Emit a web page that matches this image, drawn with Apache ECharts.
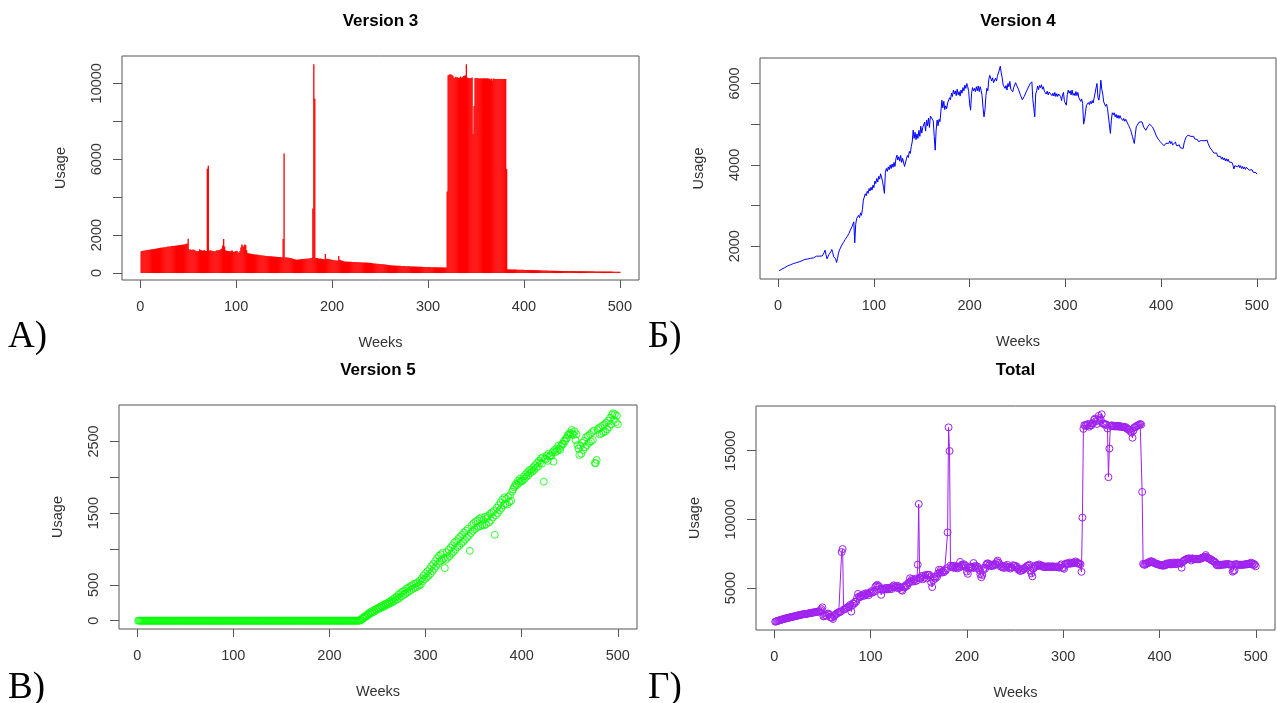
<!DOCTYPE html>
<html><head><meta charset="utf-8">
<script src="https://cdn.jsdelivr.net/npm/echarts@6/dist/echarts.min.js"></script>
<style>html,body{margin:0;padding:0;background:#fff}#c{width:1277px;height:703px}</style>
</head><body><div id="c"></div>
<script>
// ---------- DATA ----------
const xTicks = [0,100,200,300,400,500];
const v3YTicks = [0,2000,4000,6000,8000,10000];
const v3YLabels = [0,2000,6000,10000];
const v4YTicks = [2000,3000,4000,5000,6000];
const v4YLabels = [2000,4000,6000];
const v5YTicks = [0,500,1000,1500,2000,2500];
const v5YLabels = [0,500,1500,2500];
const totYTicks = [5000,10000,15000];
const totYLabels = [5000,10000,15000];

const version3 = [
1151,1160,1170,1180,1190,1200,1210,1215,1225,1235,
1240,1250,1255,1262,1270,1280,1290,1300,1310,1320,
1330,1335,1345,1350,1363,1360,1380,1390,1395,1400,
1405,1410,1420,1425,1430,1440,1445,1450,1460,1465,
1470,1480,1485,1490,1505,1510,1520,1540,1560,1804,
1250,1240,1230,1220,1240,1225,1215,1150,1160,1150,
1150,1250,1210,1200,1180,1190,1210,1170,1160,5500,
5650,1190,1200,1180,1170,1160,1150,1140,1180,1200,
1190,1210,1220,1250,1300,1450,1800,1400,1200,1180,
1170,1160,1150,1140,1180,1190,1120,1110,1150,1180,
1160,1100,1090,1160,1350,1500,1450,1400,1500,1480,
1200,1050,1040,1030,1020,1010,1000,990,985,980,
975,970,960,955,945,940,930,925,920,910,
905,900,895,890,885,880,878,875,870,865,
860,858,855,850,845,840,838,835,1800,6300,
830,825,820,810,805,800,790,780,760,740,
720,715,700,710,715,720,725,730,735,740,
745,750,755,760,765,770,775,780,790,3400,
11000,9200,800,790,780,770,760,765,750,740,
730,720,1000,760,750,740,730,720,710,700,
690,680,670,665,660,650,900,700,680,660,
640,620,610,600,605,600,598,595,590,590,
588,585,582,580,578,575,572,570,568,565,
562,560,558,555,552,550,548,545,542,540,
530,520,510,505,500,495,490,485,480,478,
475,470,465,460,455,450,440,430,420,415,
410,405,400,398,395,392,390,388,385,382,
380,378,375,372,370,368,365,362,360,358,
355,352,350,348,345,342,340,338,336,335,
333,332,330,328,326,325,323,322,320,318,
316,315,313,312,310,308,306,305,303,302,
300,300,298,298,296,296,295,294,293,4300,
10420,10450,10470,10460,10440,10400,10300,10280,10350,10300,
10320,10280,10300,10350,10300,10320,10380,10400,10420,11000,
10300,10280,10260,10250,10280,10300,7340,8800,10260,10280,
10270,10260,10260,10250,10260,10250,10260,10250,10270,10260,
10250,10260,10250,10240,10200,10250,10150,10250,10240,10230,
10230,10220,10230,10230,10220,10230,10220,10230,10220,10220,
10220,5485,200,195,190,190,188,186,185,184,
183,182,180,180,178,176,175,174,172,170,
168,166,165,163,162,160,158,156,155,154,
152,150,150,148,146,145,144,142,140,138,
136,135,134,132,130,128,126,124,123,122,
120,120,118,118,116,116,115,114,113,112,
112,111,110,110,109,108,108,107,106,105,
105,104,103,102,102,101,100,100,99,98,
98,97,96,96,95,94,94,93,92,92,
91,90,90,89,88,88,87,86,86,85,
84,84,83,82,82,81,80,80,79,78,
78,77,76,76,75,74,74,73,72,72];

const version4 = [
1396,1410,1418,1440,1447,1465,1475,1492,1498,1517,
1525,1538,1545,1563,1562,1575,1582,1594,1596,1607,
1608,1618,1622,1645,1644,1660,1656,1676,1675,1688,
1686,1700,1684,1705,1708,1725,1714,1740,1738,1756,
1742,1760,1756,1768,1776,1760,1795,1845,1904,1790,
1690,1725,1795,1770,1862,1920,1845,1740,1700,1690,
1600,1700,1830,1904,1945,2005,2035,2085,2115,2165,
2192,2235,2255,2315,2375,2425,2477,2515,2600,2084,
2540,2683,2640,2760,2700,2820,2760,2905,3133,3120,
3290,3240,3350,3300,3420,3360,3450,3380,3500,3440,
3600,3540,3666,3580,3720,3650,3780,3747,3600,3450,
3300,3820,3912,3840,3950,3880,4000,3910,4020,3940,
4060,3960,4150,4238,4120,4200,4090,4230,4060,4160,
4116,3960,3912,4150,4230,4180,4330,4280,4450,4560,
4853,4650,4800,4620,4760,4649,4850,4700,4950,4780,
4920,4880,5050,4830,5100,4960,5150,4920,5200,5221,
5240,5080,4700,4361,4850,5100,4960,5120,5060,5320,
5590,5400,5560,5360,5450,5380,5520,5480,5650,5600,
5760,5680,5835,5740,5820,5700,5860,5720,5800,5690,
5840,5760,5900,5820,5960,5880,6000,5920,5800,5500,
5344,5760,5900,5820,5880,5800,5920,5820,5940,5800,
5920,5830,5700,5400,5180,5350,5700,5880,5820,6100,
6200,6204,6060,6140,6020,6041,6130,6060,6180,6150,
6330,6425,6260,6140,5960,6000,5880,5950,5840,6000,
5920,6050,5860,5900,5794,5900,5860,6020,5960,5990,
5860,5890,5720,5740,5600,5590,5680,5660,5790,5760,
5890,5860,5990,5950,6041,5600,5400,5180,5740,5820,
5940,5850,5950,5900,5970,5860,5920,5810,5840,5740,
5810,5720,5790,5754,5800,5700,5760,5690,5780,5680,
5750,5680,5740,5713,5680,5580,5720,5780,5560,5520,
5467,5730,5835,5760,5820,5720,5840,5710,5760,5700,
5800,5700,5780,5654,5690,5560,5620,5510,5000,5100,
5300,5467,5440,5530,5480,5560,5500,5580,5520,5640,
5660,5890,6000,5660,5590,5760,6082,5860,5740,5548,
5560,5440,5490,5380,5420,5344,4772,5100,5280,5230,
5280,5180,5240,5150,5220,5140,5210,5150,5180,5090,
5140,5070,5120,5098,5080,4970,4980,4870,4853,4700,
4600,4526,4740,4934,4980,4970,5050,5010,5080,5057,
5040,4920,4940,4850,4853,4940,4920,5000,4960,5000,
4930,4920,4830,4800,4710,4730,4630,4650,4570,4600,
4520,4550,4470,4484,4530,4490,4570,4530,4590,4520,
4570,4490,4530,4480,4560,4470,4510,4440,4490,4420,
4460,4400,4403,4540,4570,4680,4650,4730,4690,4760,
4700,4720,4670,4700,4640,4660,4600,4620,4570,4590,
4550,4600,4570,4620,4590,4630,4580,4607,4530,4520,
4420,4430,4361,4370,4290,4330,4250,4290,4210,4250,
4197,4210,4140,4190,4120,4170,4100,4150,4090,4140,
4070,4110,4030,4060,3993,3900,3980,3970,4020,3950,
4000,3930,3980,3910,3960,3900,3950,3890,3940,3912,
3920,3870,3900,3850,3880,3820,3840,3790,3810,3771];

const version5 = [
0,0,0,0,0,0,0,0,0,0, 0,0,0,0,0,0,0,0,0,0,
0,0,0,0,0,0,0,0,0,0, 0,0,0,0,0,0,0,0,0,0,
0,0,0,0,0,0,0,0,0,0, 0,0,0,0,0,0,0,0,0,0,
0,0,0,0,0,0,0,0,0,0, 0,0,0,0,0,0,0,0,0,0,
0,0,0,0,0,0,0,0,0,0, 0,0,0,0,0,0,0,0,0,0,
0,0,0,0,0,0,0,0,0,0, 0,0,0,0,0,0,0,0,0,0,
0,0,0,0,0,0,0,0,0,0, 0,0,0,0,0,0,0,0,0,0,
0,0,0,0,0,0,0,0,0,0, 0,0,0,0,0,0,0,0,0,0,
0,0,0,0,0,0,0,0,0,0, 0,0,0,0,0,0,0,0,0,0,
0,0,0,0,0,0,0,0,0,0, 0,0,0,0,0,0,0,0,0,0,
0,0,0,0,0,0,0,0,0,0, 0,0,0,0,0,0,0,0,0,0,
0,0,0,0,0,0,0,0,0,0,
0,12,5,35,28,55,48,70,62,95,
88,115,100,130,118,145,128,160,150,172,
165,190,175,205,188,220,200,235,215,245,
228,262,240,280,255,300,270,318,290,335,
300,365,320,385,340,405,360,420,375,445,
395,460,410,480,430,495,445,515,460,520,
470,535,490,560,505,590,550,630,580,660,
600,690,625,720,655,760,690,790,725,830,
760,870,795,905,825,925,845,950,870,734,
850,955,880,990,900,1020,935,1050,960,1090,
990,1110,1025,1140,1045,1170,1075,1200,1100,1230,
1130,1255,1160,1285,1185,975,1220,1330,1250,1360,
1275,1380,1295,1400,1310,1420,1320,1440,1335,1405,
1330,1450,1345,1430,1460,1370,1490,1400,1510,1440,
1530,1198,1470,1575,1500,1610,1540,1650,1570,1690,
1610,1720,1630,1700,1620,1730,1655,1750,1670,1800,
1830,1860,1880,1910,1890,1950,1920,1980,1940,1960,
1950,2010,1980,2040,2010,2070,2030,2100,2060,2110,
2080,2140,2100,2170,2130,2200,2150,2230,2200,2266,
2190,2280,1940,2260,2250,2300,2230,2330,2290,2310,
2300,2350,2219,2380,2350,2400,2370,2440,2400,2382,
2440,2470,2460,2510,2500,2540,2550,2590,2600,2620,
2600,2660,2610,2590,2640,2520,2600,2450,2400,2312,
2440,2330,2480,2380,2510,2420,2560,2450,2580,2480,
2600,2500,2630,2520,2650,2200,2196,2242,2660,2684,
2600,2700,2610,2720,2630,2740,2640,2760,2670,2790,
2700,2830,2740,2870,2893,2800,2880,2770,2860,2740];

const total = [
2547,2565,2590,2618,2640,2662,2688,2705,2725,2750,
2768,2786,2803,2822,2836,2852,2875,2890,2908,2924,
2940,2947,2970,2990,3011,3015,3040,3062,3073,3083,
3095,3106,3106,3125,3142,3160,3163,3185,3202,3215,
3215,3236,3245,3254,3285,3268,3310,3380,3464,3594,
2940,2960,3030,2990,3100,3145,3065,2890,2860,2840,
2750,2950,3040,3100,3130,3190,3250,3250,3280,7620,
7840,3420,3460,3490,3550,3580,3630,3660,3780,3280,
3730,3890,3860,4010,3990,4280,4570,4380,4330,4420,
4480,4420,4560,4450,4620,4560,4580,4480,4650,4640,
4780,4660,4780,4740,5090,5150,5230,5150,5100,4930,
4500,4880,4950,4880,4990,4900,5010,4910,5000,4920,
5040,4930,5120,5193,5070,5140,5020,5160,4990,5080,
5021,4860,4807,5040,5120,5060,5230,5160,5330,5420,
5713,5510,5650,5470,5610,5489,5690,5540,6700,11120,
5750,5700,5870,5640,5900,5760,5940,5700,5960,5961,
5960,5790,5400,5071,5565,5820,5690,5850,5800,6060,
6335,6150,6310,6120,6210,6150,6300,6260,6440,9050,
16700,14980,6635,6530,6600,6470,6620,6490,6550,6430,
6570,6480,6900,6580,6710,6620,6730,6640,6510,6200,
6034,6440,6570,6485,6540,6450,6820,6520,6620,6460,
6560,6450,6310,6000,5785,5950,6298,6475,6410,6690,
6790,6789,6640,6720,6600,6616,6700,6630,6750,6715,
6890,6993,6840,6720,6560,6600,6490,6570,6460,6620,
6545,6690,6480,6530,6419,6520,6490,6660,6610,6620,
6510,6560,6360,6400,6250,6260,6320,6300,6420,6420,
6530,6520,6630,6640,6698,6261,6065,5851,6420,6500,
6630,6580,6670,6620,6720,6620,6660,6580,6590,6520,
6570,6520,6570,6542,6590,6520,6560,6520,6590,6520,
6560,6530,6560,6540,6520,6480,6640,6720,6480,6480,
6400,6710,6790,6770,6800,6760,6860,6780,6810,6800,
6880,6850,6940,6830,6830,6760,6780,6730,6180,10130,
16590,16860,16800,16900,16830,16950,16750,16860,16840,16980,
16990,17250,17330,17150,16950,17190,17542,17390,17280,17653,
17000,16950,16950,16880,16900,16619,13073,15160,16800,16840,
16840,16790,16810,16760,16800,16770,16810,16750,16800,16740,
16740,16740,16730,16700,16720,16610,16590,16540,16533,16380,
16330,15944,16470,16700,16720,16780,16820,16870,16890,16950,
16900,12000,6760,6700,6690,6770,6780,6860,6830,6890,
6960,6920,6910,6850,6810,6790,6750,6730,6710,6700,
6660,6660,6640,6620,6690,6650,6780,6730,6800,6730,
6830,6720,6810,6730,6860,6740,6840,6740,6860,6820,
6800,6790,6480,6900,6970,7020,7070,7100,7120,7150,
7150,7130,7010,7160,7140,7100,7120,7090,7110,7090,
7120,7110,7170,7180,7230,7220,7270,7400,7270,7190,
7150,7120,7110,7030,7000,6950,6930,6850,6700,6650,
6710,6650,6700,6690,6700,6700,6720,6710,6730,6730,
6740,6720,6720,6690,6700,6188,6260,6290,6750,6720,
6710,6690,6690,6690,6690,6700,6690,6710,6710,6750,
6720,6750,6740,6780,6850,6720,6790,6670,6720,6580];

const titles = ["Version 3","Version 4","Version 5","Total"];
const panelLetters = ["А)","Б)","В)","Г)"];
const xName = "Weeks";
const yName = "Usage";

// ---------- CHART ----------
const weeks = version3.map((_, i) => i + 1);
const pair = arr => arr.map((v, i) => [weeks[i], v]);
const FONT = "'Liberation Sans', Arial, sans-serif";
const TXT = '#333';
const LINE = '#555';

// R-style padded ranges (4%)
function rng(arr) {
  const lo = Math.min(...arr), hi = Math.max(...arr), d = (hi - lo) * 0.04;
  return [lo - d, hi + d];
}
const xr = rng(weeks);

const grids = [
  {left:122, top:56, width:517, height:224},
  {left:760, top:58, width:516, height:221},
  {left:119, top:405, width:518, height:224},
  {left:756, top:406, width:519, height:224}
];

function xAxisFor(i){
  return {
    type:'value', gridIndex:i, min:xr[0], max:xr[1], position:'bottom',
    name:xName, nameLocation:'middle', nameGap:55,
    nameTextStyle:{fontFamily:FONT, fontSize:14.5, color:TXT},
    axisLine:{show:false, onZero:false}, splitLine:{show:false},
    axisTick:{show:true, length:8, customValues:xTicks, lineStyle:{color:LINE}},
    axisLabel:{customValues:xTicks, margin:19, fontFamily:FONT, fontSize:14.5, color:TXT, formatter:v=>String(v)}
  };
}
function yAxisFor(i, data, ticks, labels){
  const r = rng(data);
  return {
    type:'value', gridIndex:i, min:r[0], max:r[1], position:'left',
    name:yName, nameLocation:'middle', nameGap:54, nameRotate:90,
    nameTextStyle:{fontFamily:FONT, fontSize:14.5, color:TXT},
    axisLine:{show:false, onZero:false}, splitLine:{show:false},
    axisTick:{show:true, length:9, customValues:ticks, lineStyle:{color:LINE}},
    axisLabel:{customValues:labels, rotate:90, margin:18, fontFamily:FONT, fontSize:14.5, color:TXT, formatter:v=>String(v)}
  };
}

const centers = grids.map(g => g.left + g.width/2);
const graphics = [];
const titleY = [21, 21, 370, 370];
titles.forEach((t, i) => graphics.push({type:'text', style:{text:t, x:centers[i], y:titleY[i], fill:'#000',
  font:"bold 17px 'Liberation Sans', Arial, sans-serif", textAlign:'center', textVerticalAlign:'middle'}}));
const letterPos = [[8,337],[648,337],[8,688],[648,688]];
panelLetters.forEach((t, i) => graphics.push({type:'text', style:{text:t, x:letterPos[i][0], y:letterPos[i][1], fill:'#000',
  font:"37px 'Liberation Serif', 'Times New Roman', serif", textAlign:'left', textVerticalAlign:'middle'}}));

const chart = echarts.init(document.getElementById('c'), null, {renderer:'canvas'});
chart.setOption({
  animation:false,
  backgroundColor:'#fff',
  grid: grids.map(g => Object.assign({show:true, borderColor:LINE, borderWidth:1, backgroundColor:'transparent'}, g)),
  xAxis:[0,1,2,3].map(xAxisFor),
  yAxis:[
    yAxisFor(0, version3, v3YTicks, v3YLabels),
    yAxisFor(1, version4, v4YTicks, v4YLabels),
    yAxisFor(2, version5, v5YTicks, v5YLabels),
    yAxisFor(3, total, totYTicks, totYLabels)
  ],
  graphic: graphics,
  series:[
    {type:'bar', xAxisIndex:0, yAxisIndex:0, data:pair(version3), barWidth:1.3,
      itemStyle:{color:'#FF0000'}, silent:true},
    {type:'line', xAxisIndex:1, yAxisIndex:1, data:pair(version4), showSymbol:false,
      lineStyle:{color:'#0000FF', width:1}, silent:true},
    {type:'scatter', xAxisIndex:2, yAxisIndex:2, data:pair(version5), symbol:'circle', symbolSize:7,
      itemStyle:{color:'rgba(0,0,0,0)', borderColor:'#00FF00', borderWidth:1}, silent:true},
    {type:'line', xAxisIndex:3, yAxisIndex:3, data:pair(total), symbol:'circle', symbolSize:7,
      showSymbol:true, showAllSymbol:true,
      itemStyle:{color:'rgba(0,0,0,0)', borderColor:'#A020F0', borderWidth:1},
      lineStyle:{color:'#A020F0', width:1}, silent:true}
  ]
});
</script>
</body></html>
